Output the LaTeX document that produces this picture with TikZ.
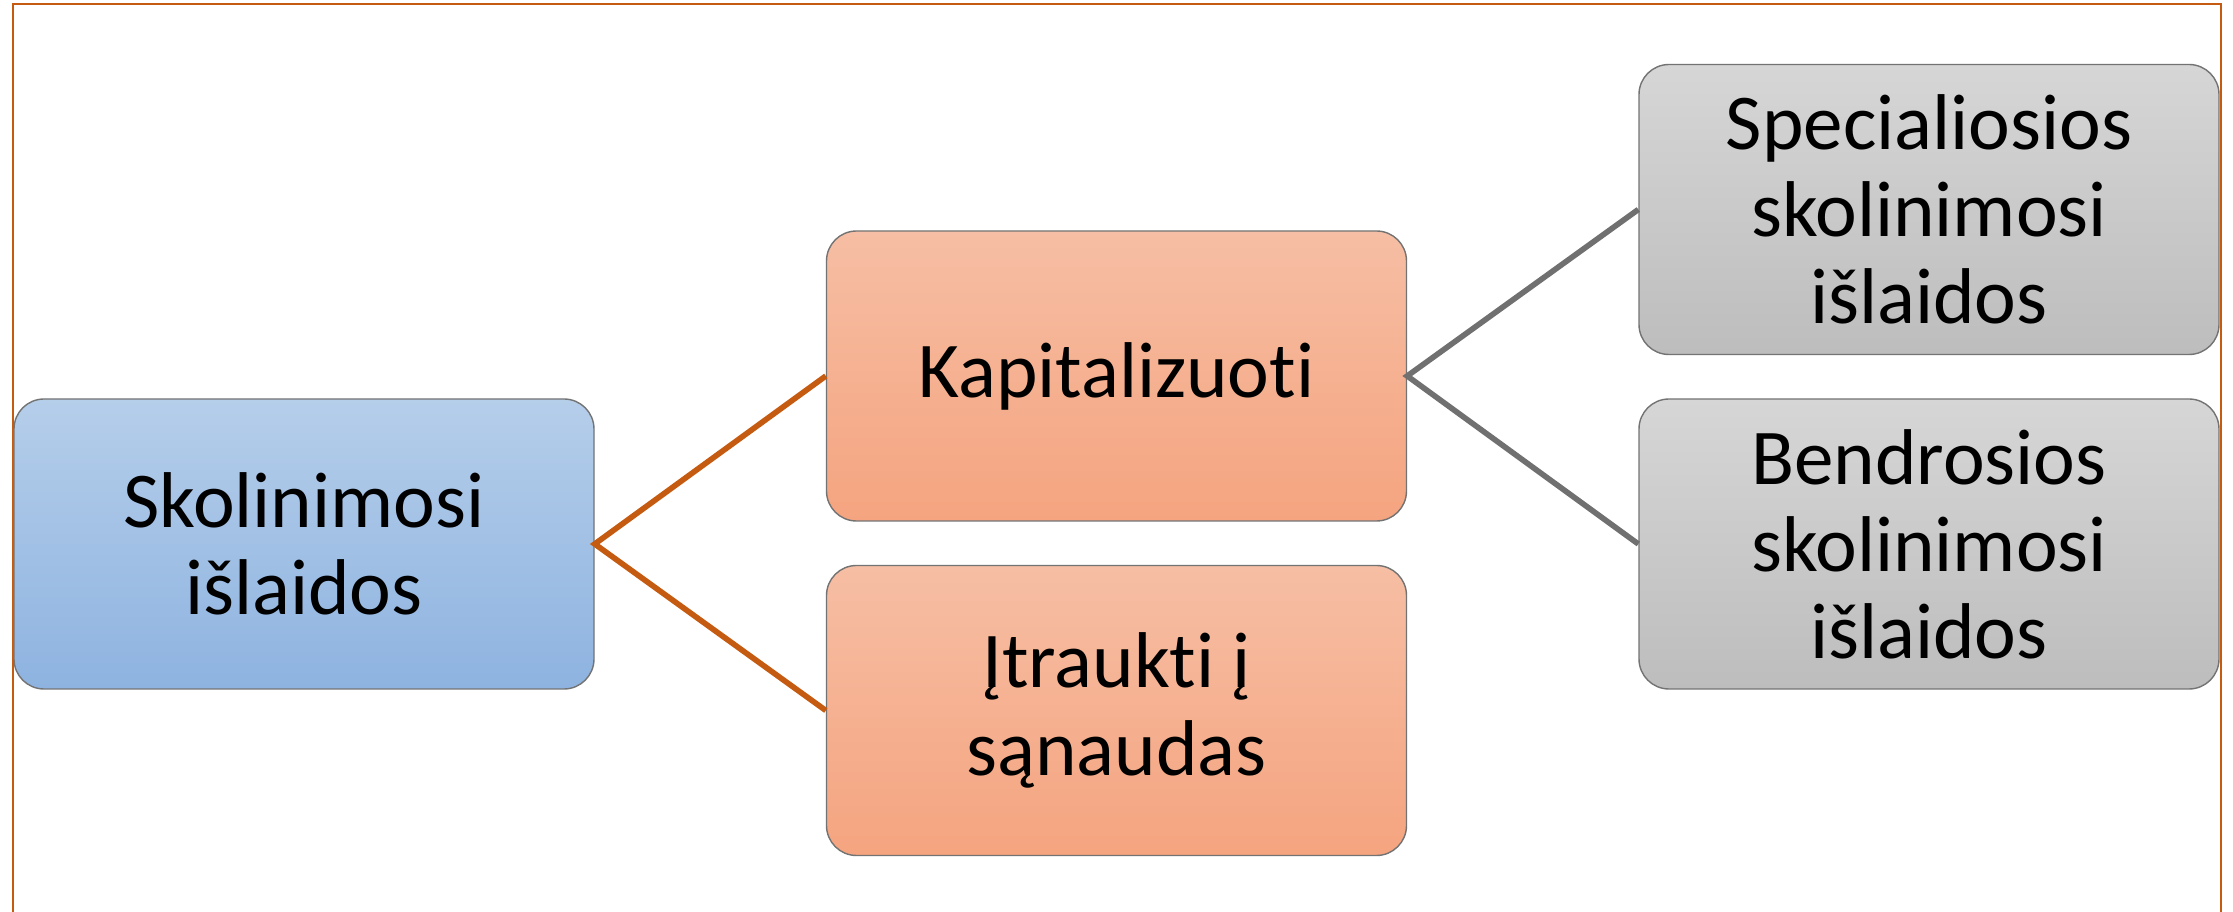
\documentclass[tikz,border=0pt]{standalone}
\usepackage{fontspec}
\setmainfont{Carlito}[RawFeature={-liga;-clig;-calt;-dlig}]
\usetikzlibrary{positioning}
\definecolor{blueTop}{HTML}{B5CEEA}
\definecolor{blueBot}{HTML}{8EB3E0}
\definecolor{orangeTop}{HTML}{F6BEA4}
\definecolor{orangeBot}{HTML}{F5A47F}
\definecolor{grayTop}{HTML}{D6D6D6}
\definecolor{grayBot}{HTML}{BDBDBD}
\definecolor{rustLine}{HTML}{C55A11}
\definecolor{greyLine}{HTML}{707070}
\def\boxfont{\fontsize{22.5}{24.8}\selectfont}

\begin{document}
\begin{tikzpicture}[
		box/.style={draw=black!55, line width=0.4pt, rounded corners=0.3cm,
			minimum width=5.8cm, minimum height=2.9cm, inner sep=0pt,
			align=center, font=\boxfont},
		bluebox/.style={box, top color=blueTop, bottom color=blueBot},
		orangebox/.style={box, top color=orangeTop, bottom color=orangeBot},
		graybox/.style={box, top color=grayTop, bottom color=grayBot},
		rustlink/.style={line width=1.6pt, color=rustLine},
		greylink/.style={line width=1.6pt, color=greyLine}]
		%%%%% START %%%%%
		
		\useasboundingbox (0, 0) rectangle (22.33, 9.12);
		\draw[line width=0.6pt, color=rustLine] (0.13, 0) -- (0.13, 9.08) -- (22.21, 9.08) -- (22.21, 0);
		
		\node[bluebox] (skol) at (3.04, 3.68) {Skolinimosi\\išlaidos};
		
		\node[orangebox] (kap) at (11.165, 5.36) {Kapitalizuoti};
		\node[orangebox] (itr) at (11.165, 2.015) {Įtraukti į\\sąnaudas};
		
		\node[graybox] (spec) at (19.29, 7.025) {Specialiosios\\skolinimosi\\išlaidos};
		\node[graybox] (bend) at (19.29, 3.68) {Bendrosios\\skolinimosi\\išlaidos};
		
		\draw[rustlink] (kap.west) -- (skol.east) -- (itr.west);
		\draw[greylink] (spec.west) -- (kap.east) -- (bend.west);
		
		%%%%% END %%%%%
	\end{tikzpicture}
\end{document}
